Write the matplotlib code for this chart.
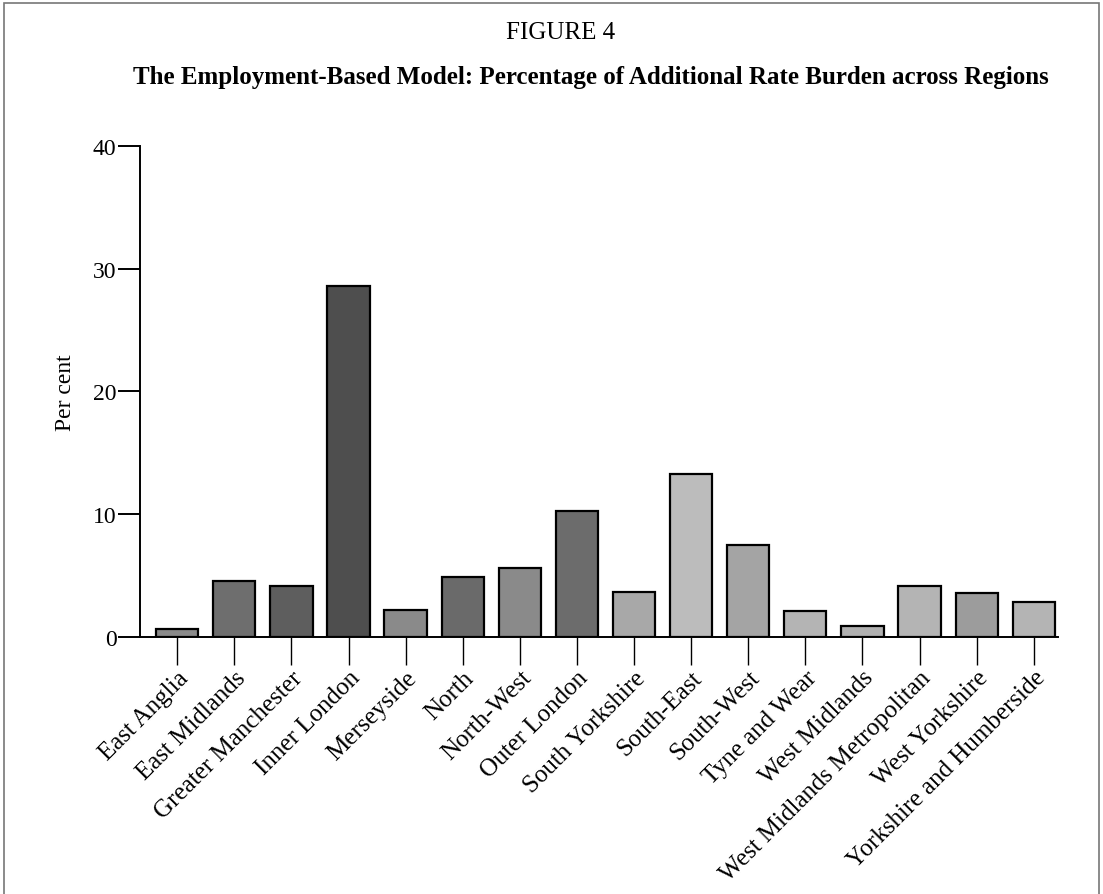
import matplotlib
matplotlib.use("Agg")
import matplotlib.pyplot as plt
from matplotlib.patches import Rectangle

regions = ["East Anglia", "East Midlands", "Greater Manchester", "Inner London",
           "Merseyside", "North", "North-West", "Outer London", "South Yorkshire",
           "South-East", "South-West", "Tyne and Wear", "West Midlands",
           "West Midlands Metropolitan", "West Yorkshire", "Yorkshire and Humberside"]
burden_pct = [0.7, 4.6, 4.2, 28.6, 2.2, 4.9, 5.6, 10.3, 3.7, 13.3, 7.5, 2.1, 0.9, 4.2, 3.6, 2.9]
# scanned stipple shades, darker on the left
shades = ["#8a8a8a", "#6e6e6e", "#5e5e5e", "#4e4e4e", "#8a8a8a", "#6a6a6a", "#8a8a8a",
          "#6c6c6c", "#a8a8a8", "#bcbcbc", "#a4a4a4", "#b4b4b4", "#b0b0b0", "#b4b4b4",
          "#9c9c9c", "#b4b4b4"]
yticks = [0, 10, 20, 30, 40]

plt.rcParams["font.family"] = ["Liberation Serif", "DejaVu Serif"]

fig = plt.figure(figsize=(11.03, 8.95), dpi=100)
fig.patches.append(Rectangle((0.004, -0.01), 0.992, 1.006, transform=fig.transFigure,
                             fill=False, edgecolor="#777777", linewidth=1.2))

ax = fig.add_axes([0.127, 0.287, 0.832, 0.549])
x = range(len(regions))
ax.bar(x, burden_pct, width=0.74, color=shades, edgecolor="black", linewidth=1.6)

ax.set_xlim(-0.65, 15.42)
ax.set_ylim(0, 40)
ax.set_yticks(yticks)
ax.set_xticks(list(x))
ax.set_xticklabels(regions, rotation=45, ha="right", rotation_mode="anchor", fontsize=18)
ax.tick_params(axis="y", length=16, width=1.4, labelsize=17, pad=1)
ax.tick_params(axis="x", length=20, width=1.0, pad=1)
for s in ["top", "right"]:
    ax.spines[s].set_visible(False)
ax.spines["left"].set_linewidth(1.4)
ax.spines["bottom"].set_linewidth(1.4)
ax.set_ylabel("Per cent", fontsize=17, labelpad=12)

fig.text(0.508, 0.963, "FIGURE 4", ha="center", va="center", fontsize=18)
fig.text(0.536, 0.913, "The Employment-Based Model: Percentage of Additional Rate Burden across Regions",
         ha="center", va="center", fontsize=18, fontweight="bold")

fig.savefig("out.png", dpi=100)
